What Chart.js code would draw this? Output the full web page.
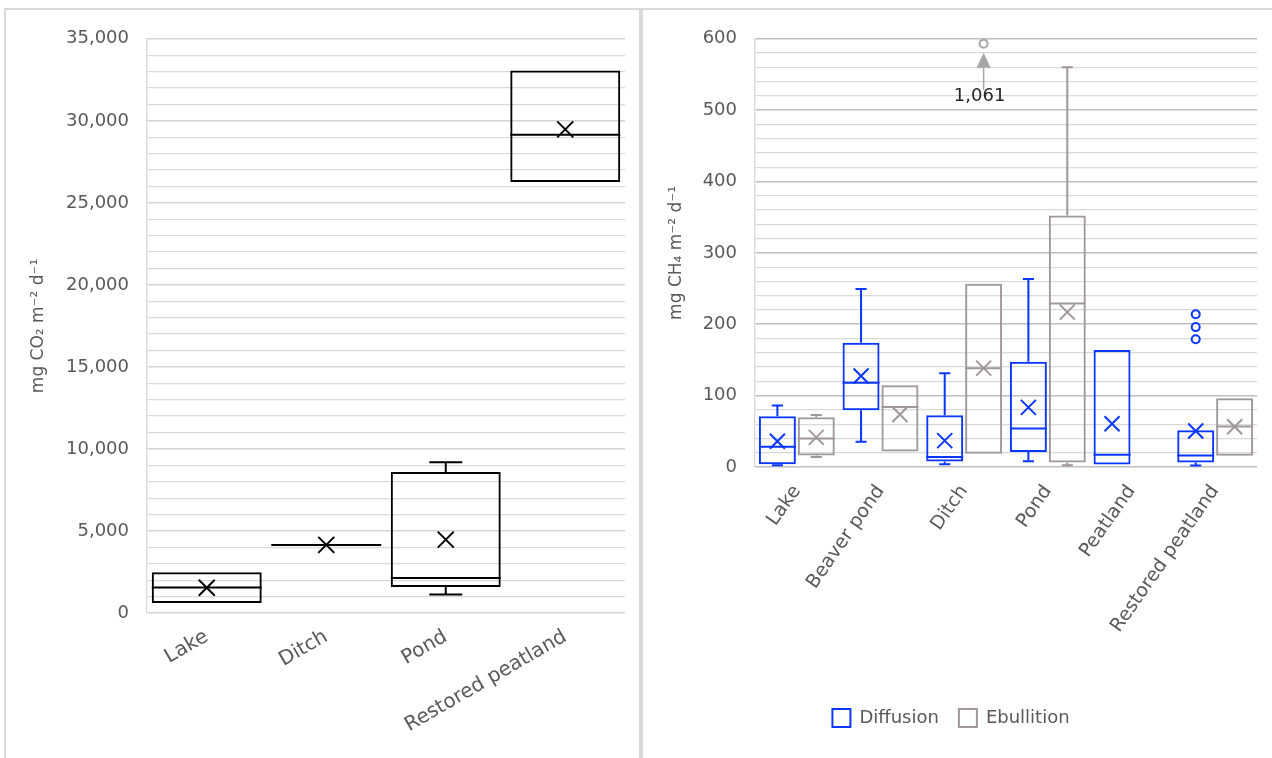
<!DOCTYPE html>
<html>
<head>
<meta charset="utf-8">
<script src="https://cdn.jsdelivr.net/npm/chart.js@4.4.1/dist/chart.umd.min.js"></script>
<style>
  html, body { margin: 0; padding: 0; background: #fff; width: 1272px; height: 758px; overflow: hidden; }
  .panel { position: absolute; top: 8px; height: 760px; border: 2px solid #d9d9d9; border-bottom: none; box-sizing: border-box; background: #fff; }
  #p1 { left: 4px; width: 637px; }
  #p2 { left: 641px; width: 640px; }
  .holder { position: absolute; top: 10px; height: 748px; }
  #h1 { left: 6px; width: 633px; }
  #h2 { left: 645px; width: 627px; }
</style>
</head>
<body>
<div class="panel" id="p1"></div>
<div class="panel" id="p2"></div>
<div class="holder" id="h1"><canvas id="co2Chart"></canvas></div>
<div class="holder" id="h2"><canvas id="ch4Chart"></canvas></div>
<script>
// ---- CO2 flux per site type (mg CO2 m-2 d-1) ----
const co2Sites   = ['Lake', 'Ditch', 'Pond', 'Restored peatland'];
const co2Min     = [610, 4150, 1130, 26270];
const co2Q1      = [610, 4150, 1580, 26270];
const co2Median  = [1560, 4150, 2140, 29150];
const co2Q3      = [2490, 4150, 8600, 33070];
const co2Max     = [2490, 4150, 9190, 33070];
const co2Mean    = [1540, 4150, 4470, 29480];
const co2Ticks   = [0, 5000, 10000, 15000, 20000, 25000, 30000, 35000];

// ---- CH4 flux per site type (mg CH4 m-2 d-1) ----
const ch4Sites   = ['Lake', 'Beaver pond', 'Ditch', 'Pond', 'Peatland', 'Restored peatland'];
const diffMin    = [2.5, 35.5, 4, 8, 3.4, 2];
const diffQ1     = [4, 79.5, 7.6, 21, 3.4, 6.2];
const diffMedian = [28.5, 118, 14, 54, 17, 16];
const diffQ3     = [71, 174, 72.5, 147.5, 164, 51.5];
const diffMax    = [86, 249.5, 131.5, 263.5, 164, 51.5];
const diffMean   = [36, 127.5, 37, 83.5, 60.5, 50.5];
const diffOut    = [[], [], [], [], [], [214, 196, 179]];

const ebMin      = [14, 21.7, 18.5, 2.5, null, 15.8];
const ebQ1       = [16.2, 21.7, 18.5, 6.2, null, 15.8];
const ebMedian   = [40, 84, 138.5, 229, null, 56.6];
const ebQ3       = [69.8, 114.7, 256.7, 352.5, null, 96.5];
const ebMax      = [73, 114.7, 256.7, 560, null, 96.5];
const ebMean     = [41.5, 73.5, 138.5, 217, null, 56.5];
const ebOut      = [[], [], [1061], [], [], []];
const ch4Ticks   = [0, 100, 200, 300, 400, 500, 600];

const FONT = "'DejaVu Sans', 'Liberation Sans', sans-serif";
const TEXT = '#595959';
const BLUE = '#0a36ff';
const GREY = '#a09797';

// Whiskers, medians, means and outliers drawn over the floating-bar boxes
const boxPlotPlugin = {
  id: 'boxPlot',
  afterDatasetsDraw(chart) {
    const ctx = chart.ctx;
    const y = chart.scales.y;
    chart.data.datasets.forEach((ds, di) => {
      const s = ds.stats;
      const meta = chart.getDatasetMeta(di);
      if (!s || meta.hidden) return;
      meta.data.forEach((bar, i) => {
        if (s.median[i] == null) return;
        const x = bar.x, half = bar.width / 2, cap = bar.width * 0.15;
        const p = v => y.getPixelForValue(v);
        ctx.save();
        ctx.strokeStyle = ds.borderColor;
        ctx.lineWidth = 2;
        ctx.beginPath();
        if (s.max[i] > s.q3[i]) {
          ctx.moveTo(x, p(s.q3[i])); ctx.lineTo(x, p(s.max[i]));
          ctx.moveTo(x - cap, p(s.max[i])); ctx.lineTo(x + cap, p(s.max[i]));
        }
        if (s.min[i] < s.q1[i]) {
          ctx.moveTo(x, p(s.q1[i])); ctx.lineTo(x, p(s.min[i]));
          ctx.moveTo(x - cap, p(s.min[i])); ctx.lineTo(x + cap, p(s.min[i]));
        }
        ctx.moveTo(x - half, p(s.median[i])); ctx.lineTo(x + half, p(s.median[i]));
        ctx.stroke();
        // mean marker
        const pm = p(s.mean[i]), m = ds.meanSize;
        ctx.beginPath();
        ctx.moveTo(x - m, pm - m); ctx.lineTo(x + m, pm + m);
        ctx.moveTo(x + m, pm - m); ctx.lineTo(x - m, pm + m);
        ctx.stroke();
        // outliers
        (s.outliers ? s.outliers[i] : []).forEach(v => {
          if (v > y.max) {
            // value beyond the axis: marker at the top edge with an arrow and its value
            const py = y.top + 5;
            ctx.strokeStyle = '#a6a6a6';
            ctx.fillStyle = '#fff';
            ctx.beginPath(); ctx.arc(x, py, 4, 0, Math.PI * 2); ctx.fill(); ctx.stroke();
            ctx.fillStyle = '#a6a6a6';
            ctx.beginPath();
            ctx.moveTo(x, py + 9); ctx.lineTo(x + 7, py + 24); ctx.lineTo(x - 7, py + 24); ctx.closePath();
            ctx.fill();
            ctx.lineWidth = 1.5;
            ctx.beginPath(); ctx.moveTo(x, py + 24); ctx.lineTo(x, py + 46); ctx.stroke();
            ctx.fillStyle = '#262626';
            ctx.font = '18px ' + FONT;
            ctx.textAlign = 'center';
            ctx.textBaseline = 'middle';
            ctx.fillText(v.toLocaleString('en-US'), x - 4, py + 53);
          } else {
            ctx.fillStyle = '#fff';
            ctx.beginPath(); ctx.arc(x, p(v), 4, 0, Math.PI * 2); ctx.fill(); ctx.stroke();
          }
        });
        ctx.restore();
      });
    });
  }
};

function yAxis(max, step, majorEvery, titleText, width, titlePad, majorColor) {
  return {
    min: 0, max: max,
    border: { display: true, color: '#d9d9d9', width: 1.3 },
    grid: {
      drawTicks: false,
      color: c => (c.tick && c.tick.value % majorEvery === 0) ? majorColor : '#d9d9d9',
      lineWidth: c => (c.tick && c.tick.value % majorEvery === 0) ? 1.6 : 1.3
    },
    ticks: {
      stepSize: step, autoSkip: false, padding: 18,
      color: TEXT, font: { family: FONT, size: 18 },
      callback: v => (v % majorEvery === 0) ? v.toLocaleString('en-US') : ''
    },
    title: { display: true, text: titleText, color: TEXT, font: { family: FONT, size: 17 }, padding: { top: titlePad, bottom: 0 } },
    afterFit: s => { s.width = width; }
  };
}

function xAxis(height, rot, pad, size) {
  return {
    grid: { display: false, drawTicks: false },
    border: { display: false },
    ticks: { color: TEXT, font: { family: FONT, size: size }, minRotation: rot, maxRotation: rot, padding: pad, autoSkip: false },
    afterFit: s => { s.height = height; }
  };
}

new Chart(document.getElementById('co2Chart'), {
  type: 'bar',
  data: {
    labels: co2Sites,
    datasets: [{
      label: 'CO2',
      data: co2Q1.map((q, i) => [q, co2Q3[i]]),
      backgroundColor: 'transparent',
      borderColor: '#000',
      borderWidth: 2,
      borderSkipped: false,
      meanSize: 8,
      stats: { min: co2Min, q1: co2Q1, median: co2Median, q3: co2Q3, max: co2Max, mean: co2Mean }
    }]
  },
  options: {
    responsive: true, maintainAspectRatio: false, animation: false,
    layout: { padding: { top: 28, right: 14, bottom: 0, left: 0 } },
    datasets: { bar: { categoryPercentage: 0.92, barPercentage: 1 } },
    plugins: { legend: { display: false }, tooltip: { enabled: false } },
    scales: {
      x: xAxis(145, 30, 12, 20),
      y: yAxis(35000, 1000, 5000, 'mg CO\u2082 m\u207B\u00B2 d\u207B\u00B9', 141, 22, '#d4d4d4')
    }
  },
  plugins: [boxPlotPlugin]
});

new Chart(document.getElementById('ch4Chart'), {
  type: 'bar',
  data: {
    labels: ch4Sites,
    datasets: [{
      label: 'Diffusion',
      data: diffQ1.map((q, i) => [q, diffQ3[i]]),
      backgroundColor: 'transparent',
      borderColor: BLUE,
      borderWidth: 2,
      borderSkipped: false,
      meanSize: 7.5,
      stats: { min: diffMin, q1: diffQ1, median: diffMedian, q3: diffQ3, max: diffMax, mean: diffMean, outliers: diffOut }
    }, {
      label: 'Ebullition',
      data: ebQ1.map((q, i) => q == null ? null : [q, ebQ3[i]]),
      backgroundColor: 'transparent',
      borderColor: GREY,
      borderWidth: 2,
      borderSkipped: false,
      meanSize: 7.5,
      stats: { min: ebMin, q1: ebQ1, median: ebMedian, q3: ebQ3, max: ebMax, mean: ebMean, outliers: ebOut }
    }]
  },
  options: {
    responsive: true, maintainAspectRatio: false, animation: false,
    layout: { padding: { top: 28, right: 15, bottom: 21, left: 0 } },
    datasets: { bar: { categoryPercentage: 0.93, barPercentage: 0.95 } },
    plugins: {
      tooltip: { enabled: false },
      legend: {
        position: 'bottom',
        labels: { boxWidth: 18, boxHeight: 18, padding: 20, color: TEXT, font: { family: FONT, size: 18 } }
      }
    },
    scales: {
      x: xAxis(222, 55, 14, 19),
      y: yAxis(600, 20, 100, 'mg CH\u2084 m\u207B\u00B2 d\u207B\u00B9', 110, 21, '#bfbfbf')
    }
  },
  plugins: [boxPlotPlugin]
});
</script>
</body>
</html>
